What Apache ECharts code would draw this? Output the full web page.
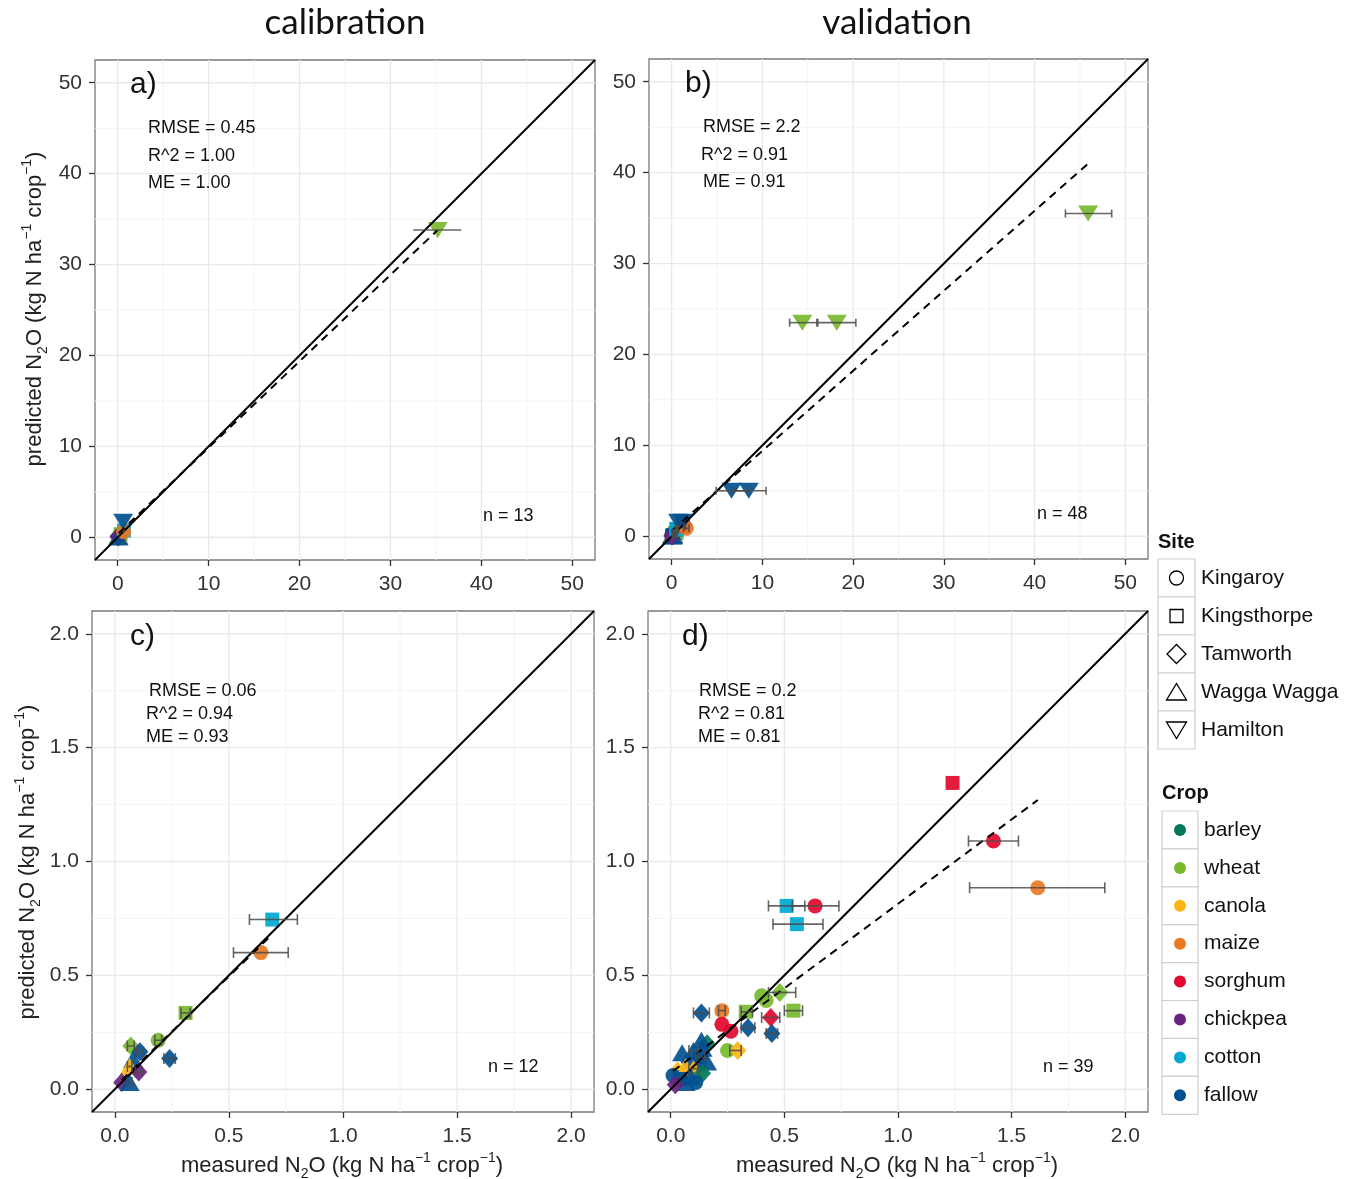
<!DOCTYPE html>
<html>
<head>
<meta charset="utf-8">
<title>N2O calibration and validation</title>
<script src="https://cdn.jsdelivr.net/npm/echarts@6/dist/echarts.min.js"></script>
<style>
  html, body { margin: 0; padding: 0; background: #fff; }
  #main { width: 1350px; height: 1179px; }
</style>
</head>
<body>
<div id="main"></div>
<script>
// legend keys
const siteNames = ['Kingaroy', 'Kingsthorpe', 'Tamworth', 'Wagga Wagga', 'Hamilton'];
const cropNames = ['barley', 'wheat', 'canola', 'maize', 'sorghum', 'chickpea', 'cotton', 'fallow'];
const cropColors = ['#00785a', '#79b92e', '#fdb515', '#e87a25', '#e3082e', '#6b2381', '#00a8d0', '#01508f'];

// points: [measured, predicted, err low, err high, site, crop]
const calSmall = [
  [0.31, 0.335, 0.29, 0.33, 'Kingsthorpe', 'wheat'],
  [0.19, 0.215, 0.175, 0.205, 'Kingaroy', 'wheat'],
  [0.07, 0.19, 0.055, 0.085, 'Tamworth', 'wheat'],
  [0.11, 0.165, 0.095, 0.125, 'Tamworth', 'fallow'],
  [0.08, 0.13, null, null, 'Wagga Wagga', 'fallow'],
  [0.24, 0.135, 0.215, 0.265, 'Tamworth', 'fallow'],
  [0.065, 0.10, 0.055, 0.075, 'Wagga Wagga', 'canola'],
  [0.105, 0.076, 0.09, 0.12, 'Tamworth', 'chickpea'],
  [0.03, 0.03, null, null, 'Tamworth', 'chickpea'],
  [0.065, 0.03, 0.055, 0.075, 'Wagga Wagga', 'fallow'],
  [0.69, 0.745, 0.59, 0.80, 'Kingsthorpe', 'cotton'],
  [0.64, 0.60, 0.52, 0.76, 'Kingaroy', 'maize']
];
const calHamilton = [
  [0.6, 1.7, null, null, 'Hamilton', 'fallow'],
  [35.2, 33.8, 32.5, 37.8, 'Hamilton', 'wheat']
];
const valSmall = [
  [0.48, 0.425, 0.43, 0.55, 'Tamworth', 'wheat'],
  [0.40, 0.41, null, null, 'Kingaroy', 'wheat'],
  [0.42, 0.39, null, null, 'Kingaroy', 'wheat'],
  [0.54, 0.345, 0.50, 0.58, 'Kingsthorpe', 'wheat'],
  [0.33, 0.34, 0.31, 0.36, 'Kingsthorpe', 'wheat'],
  [0.225, 0.345, 0.21, 0.24, 'Kingaroy', 'maize'],
  [0.135, 0.335, 0.10, 0.17, 'Tamworth', 'fallow'],
  [0.44, 0.315, 0.40, 0.48, 'Tamworth', 'sorghum'],
  [0.225, 0.285, null, null, 'Kingaroy', 'sorghum'],
  [0.265, 0.255, null, null, 'Kingaroy', 'sorghum'],
  [0.34, 0.27, 0.31, 0.37, 'Tamworth', 'fallow'],
  [0.445, 0.245, 0.42, 0.47, 'Tamworth', 'fallow'],
  [0.25, 0.17, null, null, 'Kingaroy', 'wheat'],
  [0.295, 0.17, 0.26, 0.31, 'Tamworth', 'canola'],
  [0.16, 0.20, null, null, 'Tamworth', 'barley'],
  [0.135, 0.215, null, null, 'Wagga Wagga', 'fallow'],
  [0.05, 0.16, null, null, 'Wagga Wagga', 'fallow'],
  [0.10, 0.17, 0.08, 0.12, 'Wagga Wagga', 'fallow'],
  [0.13, 0.14, 0.11, 0.15, 'Kingsthorpe', 'fallow'],
  [0.14, 0.18, null, null, 'Wagga Wagga', 'fallow'],
  [0.08, 0.12, null, null, 'Tamworth', 'fallow'],
  [0.12, 0.10, null, null, 'Tamworth', 'fallow'],
  [0.16, 0.12, null, null, 'Wagga Wagga', 'fallow'],
  [0.065, 0.10, null, null, 'Wagga Wagga', 'canola'],
  [0.10, 0.09, 0.08, 0.12, 'Wagga Wagga', 'canola'],
  [0.03, 0.08, null, null, 'Tamworth', 'canola'],
  [0.14, 0.07, null, null, 'Tamworth', 'barley'],
  [0.09, 0.055, null, null, 'Wagga Wagga', 'fallow'],
  [0.01, 0.06, null, null, 'Kingaroy', 'fallow'],
  [0.04, 0.045, null, null, 'Kingsthorpe', 'fallow'],
  [0.065, 0.03, null, null, 'Wagga Wagga', 'fallow'],
  [0.11, 0.03, null, null, 'Kingaroy', 'fallow'],
  [0.02, 0.02, null, null, 'Tamworth', 'chickpea'],
  [0.51, 0.805, 0.43, 0.59, 'Kingsthorpe', 'cotton'],
  [0.635, 0.805, 0.535, 0.74, 'Kingaroy', 'sorghum'],
  [0.555, 0.725, 0.45, 0.67, 'Kingsthorpe', 'cotton'],
  [1.24, 1.345, null, null, 'Kingsthorpe', 'sorghum'],
  [1.42, 1.09, 1.31, 1.53, 'Kingaroy', 'sorghum'],
  [1.615, 0.885, 1.315, 1.91, 'Kingaroy', 'maize']
];
const valHamilton = [
  [0.7, 1.6, null, null, 'Hamilton', 'fallow'],
  [1.3, 1.6, null, null, 'Hamilton', 'fallow'],
  [6.6, 5.0, 4.9, 8.4, 'Hamilton', 'fallow'],
  [8.5, 5.0, 6.7, 10.4, 'Hamilton', 'fallow'],
  [14.4, 23.5, 13.0, 16.0, 'Hamilton', 'wheat'],
  [18.2, 23.5, 16.1, 20.3, 'Hamilton', 'wheat'],
  [45.9, 35.5, 43.4, 48.5, 'Hamilton', 'wheat']
];

// dashed fitted lines, end points
const fitA = [[0.1, 0.45], [35.2, 33.8]];
const fitB = [[0.0, 0.6], [45.9, 41.0]];
const fitC = [[0.03, 0.04], [0.69, 0.68]];
const fitD = [[0.01, 0.08], [1.615, 1.27]];

// ticks
const bigTicks = [0, 10, 20, 30, 40, 50];
const bigMinor = [5, 15, 25, 35, 45];
const smallTicks = [0, 0.5, 1, 1.5, 2];
const smallMinor = [0.25, 0.75, 1.25, 1.75];

const statsA = ['RMSE = 0.45', 'R^2 = 1.00', 'ME = 1.00'];
const statsB = ['RMSE = 2.2', 'R^2 = 0.91', 'ME = 0.91'];
const statsC = ['RMSE = 0.06', 'R^2 = 0.94', 'ME = 0.93'];
const statsD = ['RMSE = 0.2', 'R^2 = 0.81', 'ME = 0.81'];

// symbol style per site
const siteSymbol = ['circle', 'rect', 'diamond', 'triangle', 'triangle'];
const siteRotate = [0, 0, 0, 0, 180];
const siteSize = [15, 14, [17, 19], [20, 17], [20, 16]];

const FONT = '"Liberation Sans", Arial, sans-serif';

const panels = [
  { grid: { left: 95, top: 60, width: 500, height: 500 }, min: -2.5, max: 52.5, ticks: bigTicks, minor: bigMinor, dec: 0,
    pts: calSmall.concat(calHamilton), fit: fitA, cap: 0, tag: 'a)', tagPos: [130, 85], stats: statsA,
    statPos: [[148, 128], [148, 156], [148, 183]], n: 'n = 13', nPos: [483, 516] },
  { grid: { left: 649, top: 59, width: 499, height: 500 }, min: -2.5, max: 52.5, ticks: bigTicks, minor: bigMinor, dec: 0,
    pts: valSmall.concat(valHamilton), fit: fitB, cap: 8, tag: 'b)', tagPos: [685, 84], stats: statsB,
    statPos: [[703, 127], [701, 155], [703, 182]], n: 'n = 48', nPos: [1037, 514] },
  { grid: { left: 92, top: 611, width: 502, height: 501 }, min: -0.1, max: 2.1, ticks: smallTicks, minor: smallMinor, dec: 1,
    pts: calSmall, fit: fitC, cap: 11, tag: 'c)', tagPos: [130, 637], stats: statsC,
    statPos: [[149, 691], [146, 714], [146, 737]], n: 'n = 12', nPos: [488, 1067] },
  { grid: { left: 648, top: 611, width: 500, height: 501 }, min: -0.1, max: 2.1, ticks: smallTicks, minor: smallMinor, dec: 1,
    pts: valSmall, fit: fitD, cap: 11, tag: 'd)', tagPos: [682, 637], stats: statsD,
    statPos: [[699, 691], [698, 714], [698, 737]], n: 'n = 39', nPos: [1043, 1067] }
];

function gridLineSeries(i, p) {
  const rows = [];
  p.minor.forEach(v => { rows.push([v, 1, 0]); rows.push([v, 1, 1]); });
  p.ticks.forEach(v => { rows.push([v, 0, 0]); rows.push([v, 0, 1]); });
  return {
    type: 'custom', xAxisIndex: i, yAxisIndex: i, z: 1, silent: true, data: rows,
    renderItem: (params, api) => {
      const v = api.value(0), minor = api.value(1), horiz = api.value(2);
      const a = horiz ? api.coord([p.min, v]) : api.coord([v, p.min]);
      const b = horiz ? api.coord([p.max, v]) : api.coord([v, p.max]);
      return {
        type: 'line', shape: { x1: a[0], y1: a[1], x2: b[0], y2: b[1] },
        style: { stroke: minor ? '#f4f4f4' : '#e9e9e9', lineWidth: minor ? 1 : 1.3 }
      };
    }
  };
}

function pointSeries(i, p) {
  return {
    type: 'scatter', xAxisIndex: i, yAxisIndex: i, z: 3, silent: true,
    data: p.pts.map(r => {
      const s = siteNames.indexOf(r[4]);
      return {
        value: [r[0], r[1]],
        symbol: siteSymbol[s], symbolRotate: siteRotate[s], symbolSize: siteSize[s],
        itemStyle: { color: cropColors[cropNames.indexOf(r[5])], opacity: 0.92 }
      };
    })
  };
}

function errorSeries(i, p) {
  const rows = p.pts.filter(r => r[2] !== null).map(r => [r[2], r[1], r[3]]);
  return {
    type: 'custom', xAxisIndex: i, yAxisIndex: i, z: 5, silent: true,
    encode: { x: [0, 2], y: 1 }, data: rows,
    renderItem: (params, api) => {
      const y = api.value(1);
      const a = api.coord([api.value(0), y]);
      const b = api.coord([api.value(2), y]);
      const st = { stroke: 'rgba(75,75,75,0.85)', lineWidth: 1.6 };
      const kids = [{ type: 'line', shape: { x1: a[0], y1: a[1], x2: b[0], y2: b[1] }, style: st }];
      if (p.cap > 0) {
        kids.push({ type: 'line', shape: { x1: a[0], y1: a[1] - p.cap / 2, x2: a[0], y2: a[1] + p.cap / 2 }, style: st });
        kids.push({ type: 'line', shape: { x1: b[0], y1: b[1] - p.cap / 2, x2: b[0], y2: b[1] + p.cap / 2 }, style: st });
      }
      return { type: 'group', children: kids };
    }
  };
}

const series = [];
panels.forEach((p, i) => {
  series.push(gridLineSeries(i, p));
  series.push(pointSeries(i, p));
  series.push({
    type: 'line', xAxisIndex: i, yAxisIndex: i, z: 4, silent: true, symbol: 'none',
    data: [[p.min, p.min], [p.max, p.max]],
    lineStyle: { color: '#000', width: 2 }
  });
  series.push({
    type: 'line', xAxisIndex: i, yAxisIndex: i, z: 4, silent: true, symbol: 'none',
    data: p.fit,
    lineStyle: { color: '#000', width: 2, type: [8, 6] }
  });
  series.push(errorSeries(i, p));
});

function axis(p, i, isX) {
  return {
    type: 'value', gridIndex: i, min: p.min, max: p.max,
    axisLine: { show: false, onZero: false }, splitLine: { show: false },
    axisTick: { show: true, customValues: p.ticks, length: 6, lineStyle: { color: '#333', width: 1.3 } },
    axisLabel: {
      customValues: p.ticks, formatter: v => v.toFixed(p.dec),
      fontSize: 21, color: '#333', fontFamily: FONT, margin: isX ? 14 : 13
    }
  };
}

function txt(x, y, text, size, extra) {
  return Object.assign({
    type: 'text', x: x, y: y, z: 20, silent: true,
    style: Object.assign({
      text: text, fontSize: size, fontFamily: FONT, fill: '#111',
      align: 'left', textAlign: 'left', verticalAlign: 'middle', textVerticalAlign: 'middle'
    }, extra && extra.style)
  }, extra && extra.el);
}

const richN2O = {
  sub: { fontSize: 14, fontFamily: FONT, verticalAlign: 'bottom', lineHeight: 19 },
  sup: { fontSize: 14, fontFamily: FONT, verticalAlign: 'top', lineHeight: 14 }
};
const axisTitleY = 'predicted N{sub|2}O (kg N ha{sup|\u22121} crop{sup|\u22121})';
const axisTitleX = 'measured N{sub|2}O (kg N ha{sup|\u22121} crop{sup|\u22121})';

const graphics = [];
const titleFont = { fontFamily: 'Lato, "Open Sans", sans-serif', align: 'center', textAlign: 'center' };
graphics.push(txt(345, 23, 'calibration', 35, { style: titleFont }));
graphics.push(txt(897, 23, 'validation', 35, { style: titleFont }));

panels.forEach(p => {
  graphics.push(txt(p.tagPos[0], p.tagPos[1], p.tag, 30));
  p.stats.forEach((s, k) => graphics.push(txt(p.statPos[k][0], p.statPos[k][1], s, 18)));
  graphics.push(txt(p.nPos[0], p.nPos[1], p.n, 18));
});

const titleStyle = { align: 'center', textAlign: 'center', lineHeight: 30, rich: richN2O, fill: '#222' };
graphics.push(txt(35, 309, axisTitleY, 22, { style: titleStyle, el: { rotation: Math.PI / 2 } }));
graphics.push(txt(28, 862, axisTitleY, 22, { style: titleStyle, el: { rotation: Math.PI / 2 } }));
graphics.push(txt(342, 1166, axisTitleX, 22, { style: titleStyle }));
graphics.push(txt(897, 1166, axisTitleX, 22, { style: titleStyle }));

// Site legend
graphics.push(txt(1158, 542, 'Site', 20, { style: { fontWeight: 'bold' } }));
const keyStroke = { fill: 'none', stroke: '#000', lineWidth: 1.3 };
siteNames.forEach((name, k) => {
  const cy = 578 + k * 38, cx = 1176.5;
  graphics.push({ type: 'rect', silent: true, z: 20, shape: { x: 1158, y: cy - 19, width: 37, height: 38 },
    style: { fill: '#fff', stroke: '#d0d0d0', lineWidth: 1.2 } });
  let shape;
  if (k === 0) shape = { type: 'circle', shape: { cx: cx, cy: cy, r: 7 } };
  else if (k === 1) shape = { type: 'rect', shape: { x: cx - 6.5, y: cy - 6.5, width: 13, height: 13 } };
  else if (k === 2) shape = { type: 'polygon', shape: { points: [[cx, cy - 9.5], [cx + 9.5, cy], [cx, cy + 9.5], [cx - 9.5, cy]] } };
  else if (k === 3) shape = { type: 'polygon', shape: { points: [[cx, cy - 8.5], [cx + 10, cy + 8], [cx - 10, cy + 8]] } };
  else shape = { type: 'polygon', shape: { points: [[cx - 10, cy - 8], [cx + 10, cy - 8], [cx, cy + 8.5]] } };
  shape.style = keyStroke;
  shape.silent = true;
  shape.z = 21;
  graphics.push(shape);
  graphics.push(txt(1201, cy, name, 21));
});

// Crop legend
graphics.push(txt(1162, 793, 'Crop', 20, { style: { fontWeight: 'bold' } }));
cropNames.forEach((name, k) => {
  const cy = 830 + k * 37.9, cx = 1180;
  graphics.push({ type: 'rect', silent: true, z: 20, shape: { x: 1162, y: cy - 19, width: 36, height: 38 },
    style: { fill: '#fff', stroke: '#d0d0d0', lineWidth: 1.2 } });
  graphics.push({ type: 'circle', silent: true, z: 21, shape: { cx: cx, cy: cy, r: 6 }, style: { fill: cropColors[k] } });
  graphics.push(txt(1204, cy, name, 21));
});

const chart = echarts.init(document.getElementById('main'));
chart.setOption({
  animation: false,
  backgroundColor: '#fff',
  grid: panels.map(p => Object.assign({
    show: true, borderColor: '#7a7a7a', borderWidth: 1.3, backgroundColor: 'transparent',
    containLabel: false, outerBoundsMode: 'none'
  }, p.grid)),
  xAxis: panels.map((p, i) => axis(p, i, true)),
  yAxis: panels.map((p, i) => axis(p, i, false)),
  series: series,
  graphic: { elements: graphics }
});
</script>
</body>
</html>
